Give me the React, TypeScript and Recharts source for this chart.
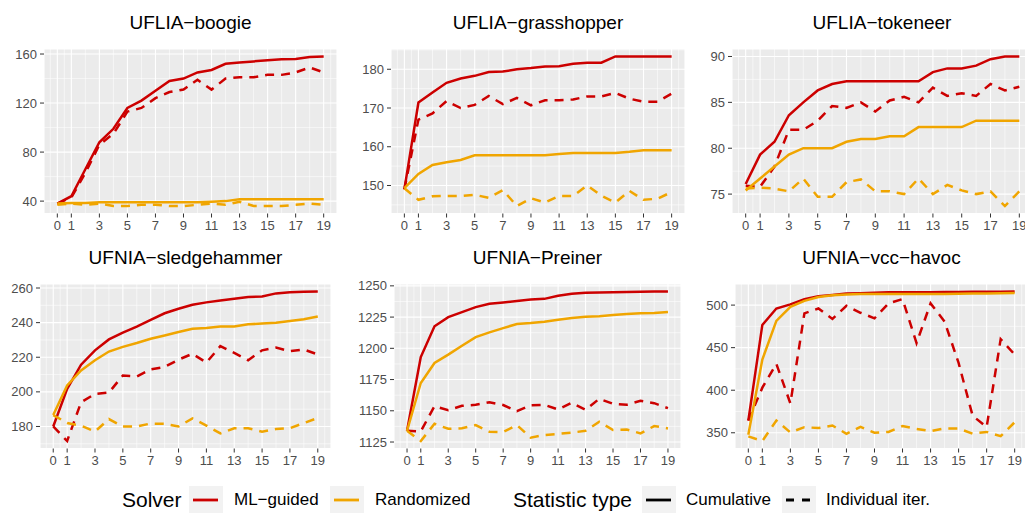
import * as React from 'react';
import { LineChart, Line, XAxis, YAxis, CartesianGrid } from 'recharts';

// iterations on the x axis
const iterations = [0, 1, 2, 3, 4, 5, 6, 7, 8, 9, 10, 11, 12, 13, 14, 15, 16, 17, 18, 19];
const xTicks = [0, 1, 3, 5, 7, 9, 11, 13, 15, 17, 19];

// UFLIA-boogie
const boogieMlCum = [38, 44, 66, 88, 99, 116, 122, 130, 138, 140, 145, 147, 152, 153, 154, 155, 155.7, 156, 157.5, 158];
const boogieMlInd = [38, 43, 63, 86, 95, 113, 116, 124, 129, 131, 139, 131, 140, 141, 141, 143, 143, 145, 149, 145];
const boogieRdCum = [38, 38.5, 38.5, 39, 39, 39, 39, 39, 39, 39, 39, 39.5, 40, 41.5, 41.5, 41.5, 41.5, 41.5, 41.5, 41.5];
const boogieRdInd = [37, 38, 37, 38, 36, 36, 37, 37, 36, 36, 37, 38, 37, 39.5, 36, 36, 36, 37, 38, 37];
const boogieTicks = [40, 80, 120, 160];

// UFLIA-grasshopper
const grassMlCum = [149, 171.4, 174, 176.5, 177.6, 178.3, 179.3, 179.4, 180, 180.3, 180.7, 180.8, 181.4, 181.7, 181.7, 183.3, 183.3, 183.3, 183.3, 183.3];
const grassMlInd = [149, 167, 168.6, 171.8, 170, 170.8, 173.1, 171, 172.6, 170.7, 172, 172, 172.2, 173, 173, 173.9, 172.4, 171.6, 171.6, 173.7];
const grassRdCum = [149.3, 153, 155.3, 156, 156.6, 157.8, 157.8, 157.8, 157.8, 157.8, 157.8, 158.1, 158.4, 158.4, 158.4, 158.4, 158.7, 159.1, 159.1, 159.1];
const grassRdInd = [149.3, 146.3, 147.2, 147.3, 147.3, 147.6, 146.8, 148.8, 144.7, 146.7, 145.6, 147.3, 147.3, 150, 147.4, 145.6, 148.6, 146.3, 146.6, 148.3];
const grassTicks = [150, 160, 170, 180];

// UFLIA-tokeneer
const tokMlCum = [76.1, 79.3, 80.7, 83.6, 85, 86.3, 87, 87.3, 87.3, 87.3, 87.3, 87.3, 87.3, 88.3, 88.7, 88.7, 89, 89.7, 90, 90];
const tokMlInd = [75.9, 75.8, 78, 82, 82, 83, 84.6, 84.4, 85, 84, 85.2, 85.6, 85, 86.6, 85.7, 86, 85.7, 87, 86.3, 86.7];
const tokRdCum = [75.4, 76.7, 78, 79.3, 80, 80, 80, 80.7, 81, 81, 81.3, 81.3, 82.3, 82.3, 82.3, 82.3, 83, 83, 83, 83];
const tokRdInd = [75.6, 75.7, 75.6, 75.3, 76.7, 74.7, 74.7, 76.3, 76.6, 75.3, 75.3, 75, 76.7, 75, 76, 75.4, 75, 75.3, 73.7, 75.3];
const tokTicks = [75, 80, 85, 90];

// UFNIA-sledgehammer
const sledgeMlCum = [180, 201.7, 215.7, 224, 230.3, 234.2, 237.7, 241.6, 245.4, 248, 250.3, 251.7, 252.8, 253.8, 254.8, 255.1, 256.9, 257.5, 257.8, 258];
const sledgeMlInd = [180, 171.6, 194, 198.8, 199.6, 209.5, 208.9, 213, 214.4, 218.6, 222, 216.9, 226.4, 222.5, 218.3, 224, 225.6, 223.5, 224.5, 221.6];
const sledgeRdCum = [186.6, 203.7, 212.4, 218.3, 223.3, 226, 228.2, 230.7, 232.6, 234.6, 236.5, 236.9, 237.8, 237.8, 239, 239.5, 240, 241, 242, 243.5];
const sledgeRdInd = [186.6, 182, 180.5, 177.1, 184.3, 180, 180, 181.7, 181.5, 180, 184.7, 180.5, 176, 179, 179, 177, 178.5, 179, 182, 184.9];
const sledgeTicks = [180, 200, 220, 240, 260];

// UFNIA-Preiner
const preinerMlCum = [1134, 1193, 1217.6, 1225, 1229, 1233, 1235.6, 1236.7, 1237.8, 1239.1, 1239.6, 1242, 1243.6, 1244.4, 1244.7, 1244.9, 1245.1, 1245.3, 1245.4, 1245.5];
const preinerMlInd = [1134, 1133.5, 1153.7, 1150.5, 1154, 1154.8, 1156.9, 1154.6, 1149.7, 1154.5, 1154.8, 1151, 1156.4, 1150.8, 1159.6, 1155.6, 1154.8, 1158, 1156.1, 1152.1];
const preinerRdCum = [1134, 1172.3, 1188.3, 1195, 1202.1, 1209, 1212.8, 1216.2, 1219.4, 1220.2, 1221.3, 1222.9, 1224.2, 1225.3, 1225.7, 1226.6, 1227.5, 1228, 1228.3, 1229];
const preinerRdInd = [1134, 1125.8, 1139.6, 1135.6, 1136, 1138.6, 1133.2, 1133, 1138.6, 1128.5, 1130.6, 1131.5, 1132.5, 1134, 1141.2, 1134.6, 1135, 1131.9, 1137.8, 1135.9];
const preinerTicks = [1125, 1150, 1175, 1200, 1225, 1250];

// UFNIA-vcc-havoc
const vccMlCum = [364.3, 476.7, 496, 500.8, 507, 510.5, 512, 513.5, 514, 514.5, 515, 515, 515, 515.2, 515.4, 515.5, 515.6, 515.7, 515.8, 516];
const vccMlInd = [364.3, 403, 431, 384.5, 490.3, 496, 483.7, 499.2, 491, 484.5, 502, 507, 455.4, 502, 480.6, 432, 370, 356.6, 460, 441.9];
const vccRdCum = [347.7, 436, 481.4, 498, 505, 509.5, 511.5, 512.5, 513, 513, 513, 513, 513, 513, 513, 513.3, 513.5, 513.7, 514, 514.2];
const vccRdInd = [345.7, 340.3, 364.3, 350.4, 356.6, 355.5, 358.5, 348.8, 357, 350, 351, 357.8, 354.5, 352, 355, 355, 349, 351, 346, 362.4];
const vccTicks = [350, 400, 450, 500];

const RED = '#CC0000';
const ORANGE = '#F0A500';
const FONT = '"Liberation Sans", Arial, Helvetica, sans-serif';
const YW = 50;
const XH = 26;
const MT = 10;
const X_MIN = -0.95;
const X_MAX = 19.95;

const panels = [
  { title: 'UFLIA\u2212boogie', mlCum: boogieMlCum, mlInd: boogieMlInd, rdCum: boogieRdCum, rdInd: boogieRdInd, ticks: boogieTicks, left: 44, top: 48.5, w: 293 },
  { title: 'UFLIA\u2212grasshopper', mlCum: grassMlCum, mlInd: grassMlInd, rdCum: grassRdCum, rdInd: grassRdInd, ticks: grassTicks, left: 391, top: 48.5, w: 294 },
  { title: 'UFLIA\u2212tokeneer', mlCum: tokMlCum, mlInd: tokMlInd, rdCum: tokRdCum, rdInd: tokRdInd, ticks: tokTicks, left: 731.5, top: 48.5, w: 301 },
  { title: 'UFNIA\u2212sledgehammer', mlCum: sledgeMlCum, mlInd: sledgeMlInd, rdCum: sledgeRdCum, rdInd: sledgeRdInd, ticks: sledgeTicks, left: 40, top: 283.5, w: 291 },
  { title: 'UFNIA\u2212Preiner', mlCum: preinerMlCum, mlInd: preinerMlInd, rdCum: preinerRdCum, rdInd: preinerRdInd, ticks: preinerTicks, left: 394, top: 283.5, w: 287 },
  { title: 'UFNIA\u2212vcc\u2212havoc', mlCum: vccMlCum, mlInd: vccMlInd, rdCum: vccRdCum, rdInd: vccRdInd, ticks: vccTicks, left: 735, top: 284, w: 293 },
];
const PLOT_H = 164.5;

// minor breaks the way ggplot does them: halfway between majors, one step past each end
function minorBreaks(ticks: number[], lo: number, hi: number) {
  const step = ticks[1] - ticks[0];
  const ext = [ticks[0] - step, ...ticks, ticks[ticks.length - 1] + step];
  const out: number[] = [];
  for (let i = 0; i < ext.length - 1; i++) out.push((ext[i] + ext[i + 1]) / 2);
  return out.filter((v) => v > lo && v < hi);
}

const xMinor = [-0.5, 0.5, 2, 4, 6, 8, 10, 12, 14, 16, 18, 19.5];

function Panel({ p }: { p: any }) {
  const all = [...p.mlCum, ...p.mlInd, ...p.rdCum, ...p.rdInd];
  const mn = Math.min(...all);
  const mx = Math.max(...all);
  const lo = mn - (mx - mn) * 0.05;
  const hi = mx + (mx - mn) * 0.05;
  const yMinor = minorBreaks(p.ticks, lo, hi);
  const rows = iterations.map((it, i) => ({
    it,
    mlCum: p.mlCum[i],
    mlInd: p.mlInd[i],
    rdCum: p.rdCum[i],
    rdInd: p.rdInd[i],
  }));

  const vGen = (props: any) =>
    xMinor.map((v) =>
      props.xAxis && typeof props.xAxis.scale === 'function'
        ? props.xAxis.scale(v)
        : props.offset.left + ((v - X_MIN) / (X_MAX - X_MIN)) * props.offset.width
    );
  const hGen = (props: any) =>
    yMinor.map((v) =>
      props.yAxis && typeof props.yAxis.scale === 'function'
        ? props.yAxis.scale(v)
        : props.offset.top + ((hi - v) / (hi - lo)) * props.offset.height
    );

  const tickStyle = { fontSize: 13, fill: '#4D4D4D', fontFamily: FONT };

  return (
    <>
      <div
        style={{
          position: 'absolute',
          left: p.left,
          width: p.w,
          top: p.top - 37,
          textAlign: 'center',
          fontSize: 19,
          fontFamily: FONT,
          color: '#000',
          lineHeight: '22px',
        }}
      >
        {p.title}
      </div>
      <div style={{ position: 'absolute', left: p.left - YW, top: p.top - MT }}>
        <LineChart width={YW + p.w} height={MT + PLOT_H + XH} data={rows} margin={{ top: MT, right: 0, bottom: 0, left: 0 }}>
          <CartesianGrid
            fill="#EBEBEB"
            stroke="#FFFFFF"
            strokeWidth={0.55}
            verticalCoordinatesGenerator={vGen}
            horizontalCoordinatesGenerator={hGen}
          />
          <CartesianGrid stroke="#FFFFFF" strokeWidth={1.1} />
          <XAxis
            dataKey="it"
            type="number"
            domain={[X_MIN, X_MAX]}
            allowDataOverflow
            ticks={xTicks}
            interval={0}
            height={XH}
            axisLine={false}
            tickSize={4}
            tickMargin={3}
            tickLine={{ stroke: '#333333', strokeWidth: 1 }}
            tick={tickStyle}
          />
          <YAxis
            type="number"
            domain={[lo, hi]}
            allowDataOverflow
            ticks={p.ticks}
            interval={0}
            width={YW}
            axisLine={false}
            tickSize={4}
            tickMargin={3}
            tickLine={{ stroke: '#333333', strokeWidth: 1 }}
            tick={tickStyle}
          />
          <Line dataKey="mlCum" stroke={RED} strokeWidth={2.5} dot={false} isAnimationActive={false} type="linear" />
          <Line dataKey="mlInd" stroke={RED} strokeWidth={2.5} strokeDasharray="9 7" dot={false} isAnimationActive={false} type="linear" />
          <Line dataKey="rdCum" stroke={ORANGE} strokeWidth={2.5} dot={false} isAnimationActive={false} type="linear" />
          <Line dataKey="rdInd" stroke={ORANGE} strokeWidth={2.5} strokeDasharray="9 7" dot={false} isAnimationActive={false} type="linear" />
        </LineChart>
      </div>
    </>
  );
}

function Key({ x, color, dashed }: { x: number; color: string; dashed?: boolean }) {
  return (
    <svg style={{ position: 'absolute', left: x, top: 486 }} width={34} height={28}>
      <rect x={0} y={0} width={34} height={28} fill="#F2F2F2" />
      <line x1={4} x2={29} y1={14} y2={14} stroke={color} strokeWidth={2.8} strokeDasharray={dashed ? '8 8' : undefined} />
    </svg>
  );
}

const legendText = (x: number, text: string, size: number) => (
  <div
    style={{
      position: 'absolute',
      left: x,
      top: 500 - size * 0.6,
      fontSize: size,
      fontFamily: FONT,
      color: '#000',
      whiteSpace: 'nowrap',
      lineHeight: `${size * 1.2}px`,
    }}
  >
    {text}
  </div>
);

export default function App() {
  return (
    <div
      style={{
        position: 'absolute',
        left: 0,
        top: 0,
        width: 1025,
        height: 513,
        overflow: 'hidden',
        background: '#FFFFFF',
      }}
    >
      {panels.map((p) => (
        <Panel key={p.title} p={p} />
      ))}
      {legendText(122, 'Solver', 21)}
      <Key x={189} color={RED} />
      {legendText(234, 'ML\u2212guided', 17)}
      <Key x={330} color={ORANGE} />
      {legendText(375, 'Randomized', 17)}
      {legendText(513, 'Statistic type', 21)}
      <Key x={642} color="#000000" />
      {legendText(686, 'Cumulative', 17)}
      <Key x={782} color="#000000" dashed />
      {legendText(826, 'Individual iter.', 17)}
    </div>
  );
}
